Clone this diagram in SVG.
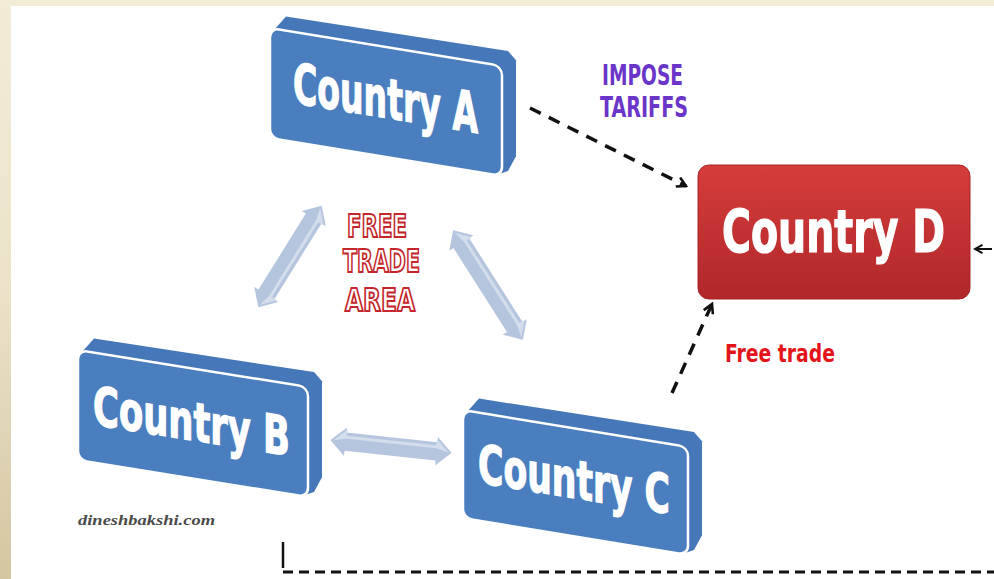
<svg xmlns="http://www.w3.org/2000/svg" width="994" height="579" viewBox="0 0 994 579">
<defs>
<linearGradient id="side" x1="0" y1="0" x2="0" y2="1"><stop offset="0" stop-color="#f2ecd7"/><stop offset="0.5" stop-color="#ebe2c9"/><stop offset="1" stop-color="#d4c6a1"/></linearGradient>
<linearGradient id="red" x1="0" y1="0" x2="0" y2="1"><stop offset="0" stop-color="#d53d3b"/><stop offset="1" stop-color="#b0272a"/></linearGradient>
<marker id="chev" viewBox="0 0 12 12" refX="10" refY="6" markerWidth="12" markerHeight="12" markerUnits="userSpaceOnUse" orient="auto"><path d="M1,1 L10,6 L1,11" fill="none" stroke="#111" stroke-width="2.6"/></marker>
<marker id="chevS" viewBox="0 0 12 12" refX="10" refY="6" markerWidth="10" markerHeight="10" markerUnits="userSpaceOnUse" orient="auto"><path d="M1,1 L10,6 L1,11" fill="none" stroke="#111" stroke-width="2.4"/></marker>
</defs>
<style>
.ext{fill:#4677b8}
.face{fill:#4a7ebe;stroke:#ffffff;stroke-width:2.5}
.lbl{font-family:"DejaVu Sans Condensed","DejaVu Sans",sans-serif;font-weight:bold;fill:#ffffff;stroke:#ffffff;stroke-width:1.2;text-anchor:middle}
.dash{fill:none;stroke:#111;stroke-width:3.5;stroke-dasharray:12 9}
.ba{fill:#b6c5de;stroke:#ffffff;stroke-width:1.5}
.bah{fill:#d3ddec}
.fta{font-family:"DejaVu Sans Condensed","DejaVu Sans",sans-serif;font-weight:bold;font-size:32px;fill:#ffffff;stroke:#c4262b;stroke-width:2;text-anchor:middle}
</style>
<rect x="0" y="0" width="994" height="579" fill="#f2ebd5"/>
<rect x="0" y="0" width="11" height="579" fill="url(#side)"/>
<rect x="11" y="6" width="983" height="573" fill="#ffffff"/>

<g id="connectors">
<g transform="translate(290,256.5) rotate(121.9)">
<polygon class="ba" points="-61,0 -44,-16 -44,-10 44,-10 44,-16 61,0 44,16 44,10 -44,10 -44,16"/>
<polygon class="bah" points="-57,0 -44,-12 -44,-6 44,-6 44,-12 57,0 44,-3 -44,-3"/>
</g>
<g transform="translate(488,285) rotate(57.5)">
<polygon class="ba" points="-66,0 -49,-16 -49,-10 49,-10 49,-16 66,0 49,16 49,10 -49,10 -49,16"/>
<polygon class="bah" points="-62,0 -49,-12 -49,-6 49,-6 49,-12 62,0 49,-3 -49,-3"/>
</g>
<g transform="translate(391,446.5) rotate(6.1)">
<polygon class="ba" points="-62,0 -45,-16 -45,-10 45,-10 45,-16 62,0 45,16 45,10 -45,10 -45,16"/>
<polygon class="bah" points="-58,0 -45,-12 -45,-6 45,-6 45,-12 58,0 45,-3 -45,-3"/>
</g>
<path class="dash" d="M530,108 L686,186" marker-end="url(#chev)"/>
<path class="dash" d="M672,393 L712,304" marker-end="url(#chev)"/>
<path d="M992,249 L975,249" fill="none" stroke="#111" stroke-width="2" marker-end="url(#chevS)"/>
<path d="M283,542 L283,568" fill="none" stroke="#111" stroke-width="2.5"/>
<path d="M283,572 L994,572" fill="none" stroke="#111" stroke-width="3" stroke-dasharray="10 6"/>
</g>

<g id="countryA" transform="matrix(1,0.164,0,1,270,28)">
<polygon class="ext" points="0,100 2,4 16,-14 238,-16 246,-8 246,88 238,104 226,110 6,110"/>
<rect class="face" x="0" y="0" width="232" height="110" rx="9"/>
<text class="lbl" x="115.5" y="71" font-size="56" textLength="185" lengthAdjust="spacingAndGlyphs">Country A</text>
</g>

<g id="countryB" transform="matrix(1,0.161,0,1,78,350)">
<polygon class="ext" points="0,100 2,4 16,-14 236,-16 244,-8 244,88 236,104 224,110 6,110"/>
<rect class="face" x="0" y="0" width="230" height="110" rx="9"/>
<text class="lbl" x="113.5" y="72" font-size="54" textLength="197" lengthAdjust="spacingAndGlyphs">Country B</text>
</g>

<g id="countryC" transform="matrix(1,0.164,0,1,463,410)">
<polygon class="ext" points="0,98 2,4 16,-14 231,-16 239,-8 239,86 231,102 219,108 6,108"/>
<rect class="face" x="0" y="0" width="225" height="108" rx="9"/>
<text class="lbl" x="111" y="70" font-size="54" textLength="192" lengthAdjust="spacingAndGlyphs">Country C</text>
</g>

<g id="countryD">
<rect x="698" y="165" width="272" height="134" rx="11" fill="url(#red)" stroke="#a82326" stroke-width="1"/>
<text class="lbl" x="833.5" y="252" font-size="58" textLength="223" lengthAdjust="spacingAndGlyphs">Country D</text>
</g>

<g id="imposeTariffs" font-family="DejaVu Sans Condensed, DejaVu Sans, sans-serif" font-weight="bold" font-size="28" fill="#6a35c8" text-anchor="middle">
<text x="642.5" y="85" textLength="81" lengthAdjust="spacingAndGlyphs">IMPOSE</text>
<text x="644" y="117" textLength="88" lengthAdjust="spacingAndGlyphs">TARIFFS</text>
</g>

<g id="freeTradeArea">
<text class="fta" x="377" y="237" textLength="60" lengthAdjust="spacingAndGlyphs">FREE</text>
<text class="fta" x="381.5" y="272" textLength="77" lengthAdjust="spacingAndGlyphs">TRADE</text>
<text class="fta" x="380" y="311" textLength="70" lengthAdjust="spacingAndGlyphs">AREA</text>
</g>

<g id="freeTrade">
<text x="780" y="362" font-family="DejaVu Sans Condensed, DejaVu Sans, sans-serif" font-weight="bold" font-size="25" fill="#e3151b" text-anchor="middle" textLength="110" lengthAdjust="spacingAndGlyphs">Free trade</text>
</g>

<g id="watermark">
<text x="78" y="525" font-family="Liberation Serif, serif" font-style="italic" font-weight="bold" font-size="14" fill="#4a4a4a" textLength="137" lengthAdjust="spacingAndGlyphs">dineshbakshi.com</text>
</g>
</svg>
